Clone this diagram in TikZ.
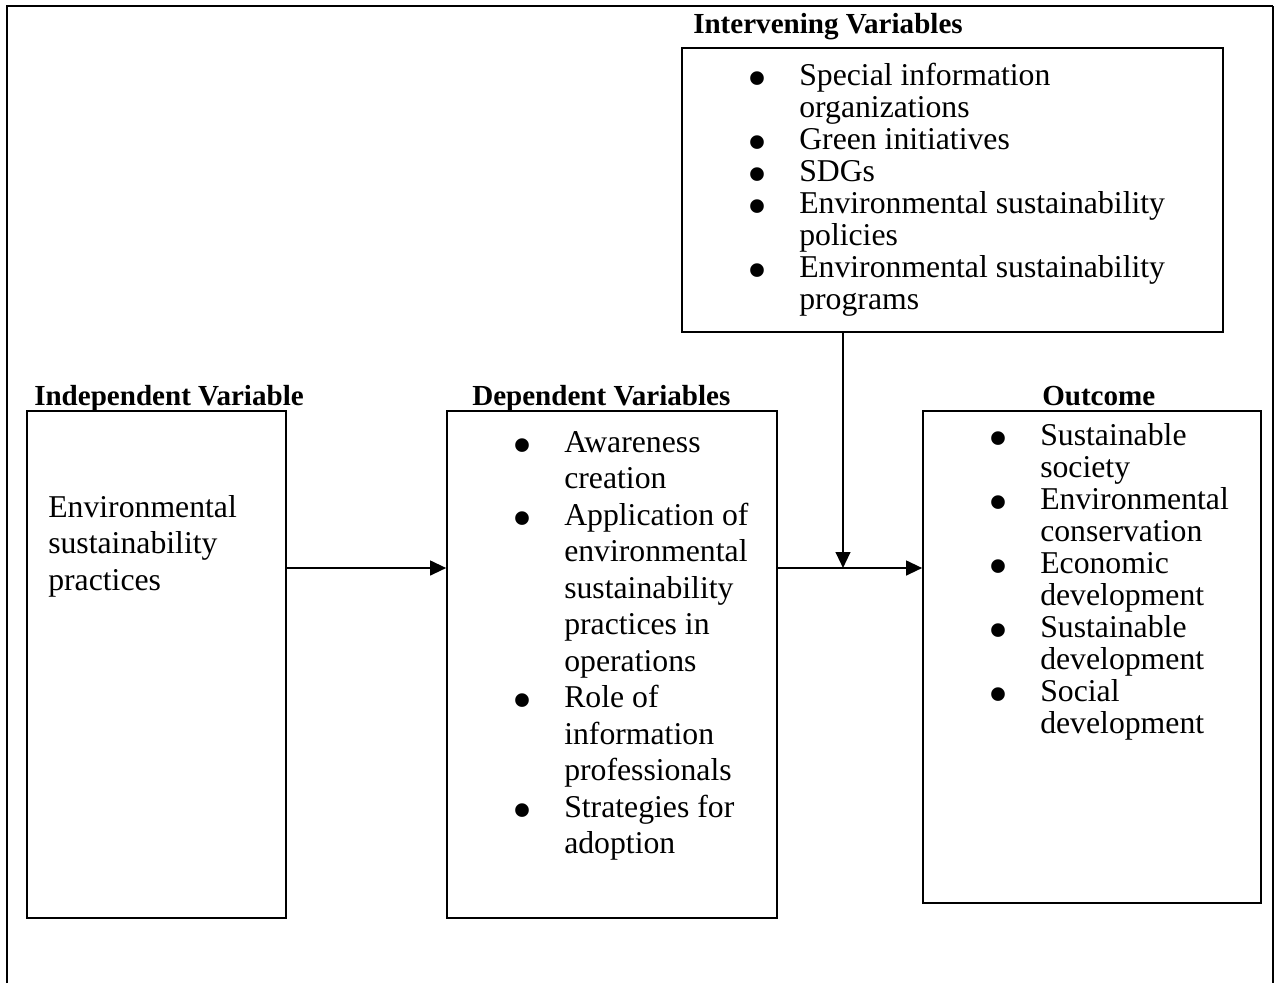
\documentclass[tikz,border=0pt]{standalone}
\usepackage{fontspec}
\usepackage{graphicx}
\setmainfont{Liberation Serif}
\usetikzlibrary{arrows.meta}
\newcommand\itemb{\makebox[35.25pt][l]{\hspace*{-3.5pt}\smash{\raisebox{-9pt}{\scalebox{1.8}{•}}}}}
\newcommand\itemc{\hspace*{35.25pt}}
\tikzset{
  box/.style={draw, line width=1.2pt, rectangle, inner sep=0pt},
  tight/.style={inner sep=0pt, anchor=base west, font=\fontsize{23.8}{24}\selectfont},
  loose/.style={inner sep=0pt, anchor=base west, font=\fontsize{23.8}{27.4}\selectfont},
  ttl/.style={inner sep=0pt, anchor=base west, font=\fontsize{21.8}{24}\selectfont\bfseries},
  arr/.style={line width=1.6pt, -{Triangle[length=12pt,width=11pt]}},
  frame/.style={line width=1.8pt},
}
\begin{document}
\begin{tikzpicture}[x=0.75pt,y=-0.75pt]
\useasboundingbox (0,0) rectangle (1285,983);
% outer frame (open at the bottom)
\draw[frame] (7,983) -- (7,6) -- (1273,6);
\draw[frame] (1273,6) -- (1273,983);

% boxes
\node[box, minimum width={541*0.75pt}, minimum height={284*0.75pt}] (int) at (952.5,190) {};
\node[box, minimum width={259*0.75pt}, minimum height={507*0.75pt}] (ind) at (156.5,664.5) {};
\node[box, minimum width={330*0.75pt}, minimum height={507*0.75pt}] (dep) at (612,664.5) {};
\node[box, minimum width={338*0.75pt}, minimum height={492*0.75pt}] (out) at (1092,657) {};

% titles
\node[ttl] (tint) at (693,33) {Intervening Variables};
\node[ttl] (tind) at (34,405) {Independent Variable};
\node[ttl] (tdep) at (472,405) {Dependent Variables};
\node[ttl] (tout) at (1042,405) {Outcome};

% texts
\node[tight] (lint) at (752,85) {\begin{tabular}[t]{@{}l@{}}
\itemb Special information\\
\itemc organizations\\
\itemb Green initiatives\\
\itemb SDGs\\
\itemb Environmental sustainability\\
\itemc policies\\
\itemb Environmental sustainability\\
\itemc programs
\end{tabular}};

\node[loose] (lind) at (48,517) {\begin{tabular}[t]{@{}l@{}}
Environmental\\
sustainability\\
practices
\end{tabular}};

\node[loose] (ldep) at (517,452) {\begin{tabular}[t]{@{}l@{}}
\itemb Awareness\\
\itemc creation\\
\itemb Application of\\
\itemc environmental\\
\itemc sustainability\\
\itemc practices in\\
\itemc operations\\
\itemb Role of\\
\itemc information\\
\itemc professionals\\
\itemb Strategies for\\
\itemc adoption
\end{tabular}};

\node[tight] (lout) at (993,445) {\begin{tabular}[t]{@{}l@{}}
\itemb Sustainable\\
\itemc society\\
\itemb Environmental\\
\itemc conservation\\
\itemb Economic\\
\itemc development\\
\itemb Sustainable\\
\itemc development\\
\itemb Social\\
\itemc development
\end{tabular}};

% connectors
\coordinate (ay) at (0,568);
\coordinate (join) at (843,568);
\draw[arr] (ind.east |- ay) -- (dep.west |- ay);
\draw[arr] (dep.east |- ay) -- (out.west |- ay);
\draw[arr] (int.south -| join) -- (join);
\end{tikzpicture}
\end{document}
